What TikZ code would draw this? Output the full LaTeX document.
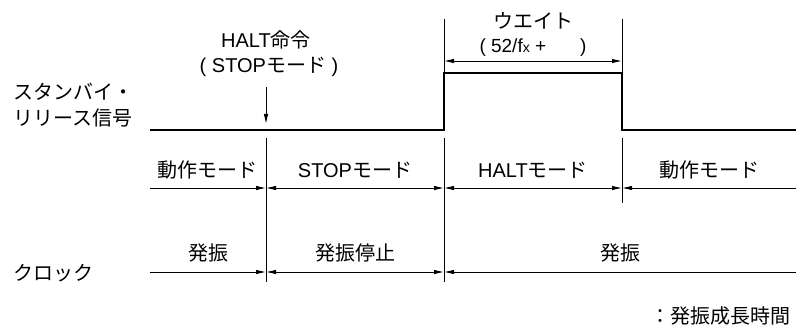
\documentclass[tikz,border=0pt]{standalone}
\usepackage{fontspec}
\setmainfont{Liberation Sans}
\newfontfamily\cjk{Noto Sans CJK JP}
\usetikzlibrary{arrows.meta}
\newcommand{\lat}[1]{{\fontspec{Liberation Sans}#1}}
\begin{document}
\begin{tikzpicture}[x=1pt,y=-1pt,
  lbl/.style={inner sep=0pt, font=\fontsize{20}{22}\selectfont\cjk},
  thinln/.style={line width=0.9pt},
  sigln/.style={line width=2.6pt, line join=miter},
  arr/.tip={Latex[length=10pt,width=4.5pt]}
]
\useasboundingbox (0,0) rectangle (796,329);
% coordinates
\coordinate (s0) at (150,130);
\coordinate (r0) at (444,130);
\coordinate (r1) at (444,73);
\coordinate (f1) at (622,73);
\coordinate (f0) at (622,130);
\coordinate (s1) at (796,130);
% signal
\draw[sigln] (s0) -- (r0) -- (r1) -- (f1) -- (f0) -- (s1);
% labels left
\node[lbl, anchor=west] (sb1) at (13,92) {スタンバイ・};
\node[lbl, anchor=west] (sb2) at (13,118) {リリース信号};
\node[lbl, anchor=west] (clk) at (13,273) {クロック};
% HALT command
\node[lbl] (halt) at (266,40) {\lat{HALT}命令};
\node[lbl] (haltb) at (269,67) {\lat{(\ STOP}モード\lat{\ )}};
\coordinate (ha0) at (266,87);
\coordinate (ha1) at (266,124);
\draw[thinln, -arr] (ha0) -- (ha1);
% wait
\coordinate (w0t) at (444,19);
\coordinate (w1t) at (622,19);
\coordinate (w0) at (444,61);
\coordinate (w1) at (622,61);
\draw[thinln] (w0t) -- (r1);
\draw[thinln] (w1t) -- (f1);
\draw[thinln, arr-arr] (w0) -- (w1);
\node[lbl] (wait) at (533,21) {ウエイト};
\node[lbl, font=\fontsize{19}{22}\selectfont] (waitf) at (533,48) {( 52/f{\fontsize{14}{16}\selectfont x} +\hspace{34pt})};
% vertical separators
\coordinate (v1t) at (266,138);
\coordinate (v1b) at (266,282);
\coordinate (v2t) at (444,138);
\coordinate (v2b) at (444,282);
\coordinate (v3t) at (622,138);
\coordinate (v3b) at (622,203);
\draw[thinln] (v1t) -- (v1b);
\draw[thinln] (v2t) -- (v2b);
\draw[thinln] (v3t) -- (v3b);
% mode row
\coordinate (m0) at (150,188);
\coordinate (m1) at (266,188);
\coordinate (m2) at (444,188);
\coordinate (m3) at (622,188);
\coordinate (m4) at (796,188);
\draw[thinln, -arr] (m0) -- (m1);
\draw[thinln, arr-arr] (m1) -- (m2);
\draw[thinln, arr-arr] (m2) -- (m3);
\draw[thinln, arr-] (m3) -- (m4);
\node[lbl] (md1) at (207,170) {動作モード};
\node[lbl] (md2) at (355,170) {\lat{STOP}モード};
\node[lbl] (md3) at (533,170) {\lat{HALT}モード};
\node[lbl] (md4) at (709,170) {動作モード};
% clock row
\coordinate (c0) at (150,272);
\coordinate (c1) at (266,272);
\coordinate (c2) at (444,272);
\coordinate (c3) at (796,272);
\draw[thinln, -arr] (c0) -- (c1);
\draw[thinln, arr-arr] (c1) -- (c2);
\draw[thinln, arr-] (c2) -- (c3);
\node[lbl] (ck1) at (208,253) {発振};
\node[lbl] (ck2) at (355,253) {発振停止};
\node[lbl] (ck3) at (620,253) {発振};
% note
\node[lbl, anchor=east] (note) at (791,316) {：発振成長時間};
\end{tikzpicture}
\end{document}
